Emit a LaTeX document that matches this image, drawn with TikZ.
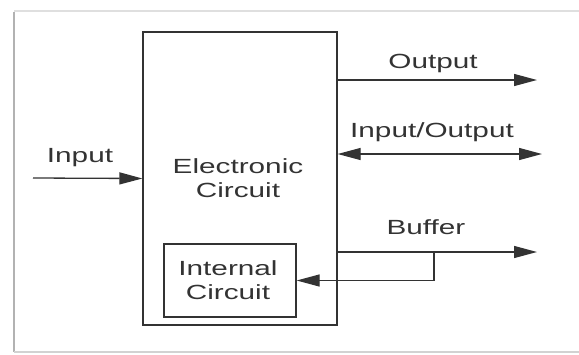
\documentclass[tikz,border=0pt]{standalone}
\usepackage{fontspec}
\setmainfont{Liberation Sans}
\usepackage{xcolor}
\usetikzlibrary{arrows.meta}
\definecolor{ink}{rgb}{0.2, 0.2, 0.2}

\begin{document}
\begin{tikzpicture}[x=1pt, y=1pt,
  box/.style={rectangle, draw=ink, line width=1.3pt, inner sep=0pt, align=center},
  lbl/.style={text=ink, font=\fontsize{20.5}{24}\selectfont, xscale=1.45, align=center},
  wire/.style={draw=ink, line width=1.3pt},
  arr/.style={wire, -{Triangle[length=23pt,width=12pt]}},
  arrtwo/.style={wire, {Triangle[length=23pt,width=12pt]}-{Triangle[length=23pt,width=12pt]}}]
\useasboundingbox (0,0) rectangle (579,-354);
% frame round the figure
\draw[gray!60, line width=2.5pt] (14,-12) -- (14,-352);
\draw[gray!25, line width=1.5pt] (14,-11) -- (579,-11);
\draw[gray!35, line width=1.5pt] (14,-352) -- (579,-352);

 \node[box, minimum width=194pt, minimum height=293pt] (ec) at (240,-178.5) {};
  \node[lbl] (ectext) at (238,-178) {Electronic\\Circuit};
 \node[box, minimum width=132pt, minimum height=73pt] (ic) at (230,-280.5) {};
  \node[lbl] (ictext) at (228,-280.5) {Internal\\Circuit};

\coordinate (inp) at (33,-178);
\coordinate (outend) at (537,-80);
\coordinate (ioend) at (542,-154);
\coordinate (bufend) at (537,-252);
\coordinate (tap) at (434,-252);

       \draw[arr] (inp) -- (ec.west);
       \draw[arr] (ec.east |- outend) -- (outend);
         \draw[arrtwo] (ec.east |- ioend) -- (ioend);
         \draw[arr] (ec.east |- bufend) -- (bufend);
           \draw[arr] (tap) |- (ic.east);

  \node[lbl] (inlbl) at (80,-158) {Input};
  \node[lbl] (outlbl) at (433,-63) {Output};
  \node[lbl] (iolbl) at (432,-132) {Input/Output};
  \node[lbl] (buflbl) at (426,-227) {Buffer};
\end{tikzpicture}
\end{document}
